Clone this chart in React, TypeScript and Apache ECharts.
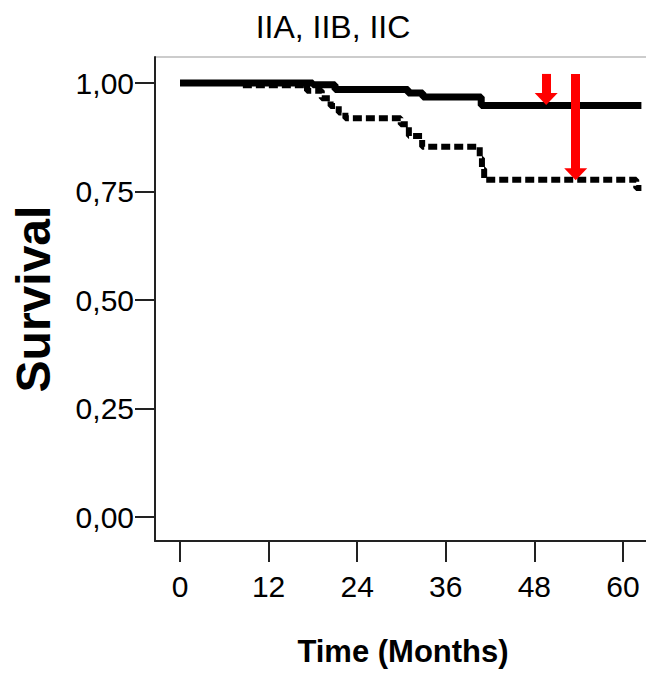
import React, { useEffect, useRef } from 'react';
import * as echarts from 'echarts';

const chartTitle = 'IIA, IIB, IIC';
const xAxisName = 'Time (Months)';
const yAxisName = 'Survival';
const xTicks = [0, 12, 24, 36, 48, 60];
const yTicks = [0, 0.25, 0.5, 0.75, 1];

const solidMonths = [0, 18.0, 21.0, 30.9, 32.9, 40.8, 62.5];
const solidSurvival = [1.0, 0.996, 0.985, 0.977, 0.968, 0.948, 0.948];

const dottedMonths = [0, 8.1, 17.2, 19.2, 20.4, 21.5, 22.4, 29.9, 31.0, 32.8, 40.6, 40.9, 41.2, 61.8, 62.5];
const dottedSurvival = [1.0, 0.995, 0.982, 0.965, 0.947, 0.932, 0.919, 0.905, 0.878, 0.853, 0.827, 0.802, 0.777, 0.758, 0.758];

const arrowMonths = [49.6, 53.6];
const arrowTops = [1.021, 1.021];
const arrowHeads = [0.963, 0.79];

const FONT = "'Liberation Sans', Arial, sans-serif";
const fmt = (v: number) => v.toFixed(2).replace('.', ',');

export default function App() {
  const ref = useRef<HTMLDivElement>(null);
  useEffect(() => {
    if (!ref.current) return;
    const chart = echarts.init(ref.current, null, { renderer: 'svg' });
    const solid = solidMonths.map((m, i) => [m, solidSurvival[i]]);
    const dotted = dottedMonths.map((m, i) => [m, dottedSurvival[i]]);
    const shafts = arrowMonths.map((m, i) => [
      { coord: [m, arrowTops[i]] },
      { coord: [m, arrowHeads[i]] },
    ]);
    const heads = arrowMonths.map((m, i) => ({ coord: [m, arrowHeads[i]] }));
    chart.setOption({
      animation: false,
      backgroundColor: '#ffffff',
      title: {
        text: chartTitle,
        left: 328,
        top: 6,
        textAlign: 'center',
        textStyle: { fontFamily: FONT, fontSize: 32, fontWeight: 'normal', color: '#000' },
      },
      grid: {
        left: 155,
        top: 57,
        bottom: 137,
        right: -5,
        show: true,
        borderColor: '#999',
        borderWidth: 1,
        containLabel: false,
        outerBoundsMode: 'none',
      },
      xAxis: {
        type: 'value',
        min: -3.39,
        max: 63.8,
        name: xAxisName,
        nameLocation: 'middle',
        nameGap: 95,
        nameTextStyle: { fontFamily: FONT, fontSize: 31, fontWeight: 'bold', color: '#000' },
        axisLine: { show: true, onZero: false, lineStyle: { color: '#222', width: 2 } },
        axisTick: { show: true, length: 21, lineStyle: { color: '#222', width: 2 }, customValues: xTicks },
        axisLabel: {
          fontFamily: FONT, fontSize: 30, color: '#000', margin: 30,
          customValues: xTicks,
          formatter: (v: number) => String(v),
        },
        splitLine: { show: false },
      },
      yAxis: {
        type: 'value',
        min: -0.055,
        max: 1.06,
        name: yAxisName,
        nameLocation: 'middle',
        nameGap: 98,
        nameRotate: 90,
        nameTextStyle: { fontFamily: FONT, fontSize: 48, fontWeight: 'bold', color: '#000' },
        axisLine: { show: true, onZero: false, lineStyle: { color: '#222', width: 2 } },
        axisTick: { show: true, length: 20, lineStyle: { color: '#222', width: 2 }, customValues: yTicks },
        axisLabel: {
          fontFamily: FONT, fontSize: 30, color: '#000', margin: 21,
          customValues: yTicks,
          formatter: (v: number) => fmt(v),
        },
        splitLine: { show: false },
      },
      series: [
        {
          type: 'line',
          step: 'end',
          data: dotted,
          showSymbol: false,
          symbol: 'none',
          lineStyle: { color: '#000', width: 6, type: [9, 4] },
          silent: true,
        },
        {
          type: 'line',
          step: 'end',
          data: solid,
          showSymbol: false,
          symbol: 'none',
          lineStyle: { color: '#000', width: 7 },
          silent: true,
          markLine: {
            silent: true,
            symbol: ['none', 'none'],
            label: { show: false },
            lineStyle: { color: '#ff0000', width: 9, type: 'solid' },
            emphasis: { disabled: true },
            data: shafts,
          },
          markPoint: {
            silent: true,
            symbol: 'triangle',
            symbolRotate: 180,
            symbolSize: [23, 12],
            itemStyle: { color: '#ff0000' },
            label: { show: false },
            emphasis: { disabled: true },
            data: heads,
          },
        },
      ],
    });
    return () => chart.dispose();
  }, []);
  return (
    <div
      ref={ref}
      style={{ position: 'absolute', left: 0, top: 0, width: 646, height: 678 }}
    />
  );
}
